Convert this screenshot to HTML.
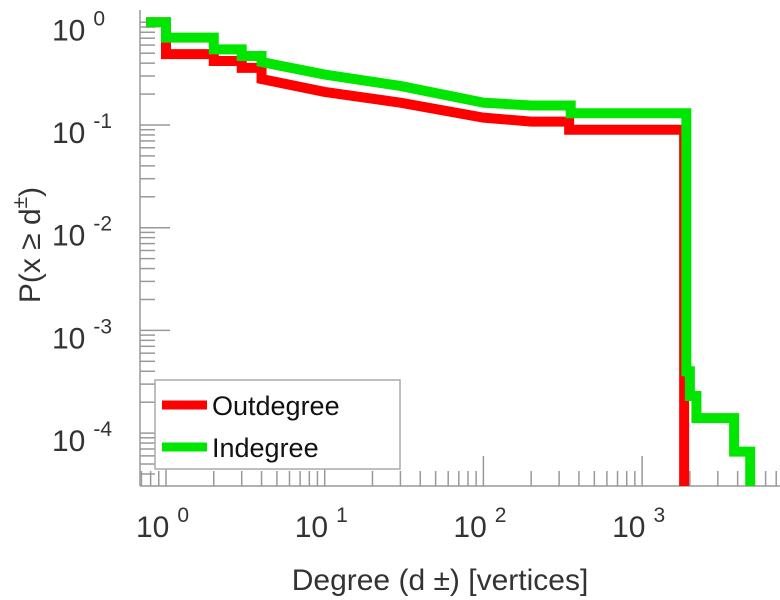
<!DOCTYPE html>
<html><head><meta charset="utf-8">
<style>
html,body{margin:0;padding:0;background:#fff;}
svg{display:block;font-family:"Liberation Sans",sans-serif;}
</style></head>
<body>
<svg id="chart" width="780" height="600" viewBox="0 0 780 600"></svg>
<script>
const outDeg = [0.75, 1, 2, 3, 4, 10, 30, 100, 200, 347, 1840];
const outP   = [1, 0.49, 0.42, 0.36, 0.28, 0.21, 0.165, 0.118, 0.108, 0.09, 0.09];
const outStep = [0, 1, 1, 1, 1, 0, 0, 0, 0, 1, 0];
const inDeg  = [0.75, 1, 2, 3, 4, 10, 30, 100, 200, 355, 1820, 1900, 2000, 2200, 3800, 4800];
const inP    = [1, 0.71, 0.545, 0.47, 0.41, 0.31, 0.24, 0.165, 0.155, 0.13, 0.13, 0.0004, 0.00023, 0.00014, 0.000066, 0.000066];
const inStep = [0, 1, 1, 1, 1, 0, 0, 0, 0, 1, 0, 1, 1, 1, 1, 0];
const xTickExp = [0, 1, 2, 3];
const yTickExp = [0, -1, -2, -3, -4];

const NS = "http://www.w3.org/2000/svg";
const svg = document.getElementById("chart");
const L = 140, R = 780, T = 0, B = 486;
const X0 = 166, XD = 158.7, Y0 = 22.3, YD = 102.7;
function xs(d){ return X0 + Math.log10(d) * XD; }
function ys(p){ return Y0 - Math.log10(p) * YD; }
function mk(tag, attrs, parent){
  const e = document.createElementNS(NS, tag);
  for (const k in attrs) e.setAttribute(k, attrs[k]);
  (parent || svg).appendChild(e);
  return e;
}
const defs = mk("defs", {});
const cp = mk("clipPath", {id:"clip"}, defs);
mk("rect", {x:L, y:T, width:R-L, height:B-T}, cp);

const axes = mk("g", {stroke:"#999", "stroke-width":1.5, fill:"none"});


mk("line", {x1:L, y1:T+10, x2:L, y2:B}, axes);
mk("line", {x1:L, y1:B, x2:R, y2:B}, axes);
for (let e = -1; e <= 3; e++) {
  for (let m = 1; m <= 9; m++) {
    const x = xs(m * Math.pow(10, e));
    if (x < L || x > R) continue;
    const len = m === 1 ? 30 : 15;
    mk("line", {x1:x, y1:B, x2:x, y2:B-len}, axes);
  }
}
for (let e = -5; e <= 0; e++) {
  for (let m = 1; m <= 9; m++) {
    const y = ys(m * Math.pow(10, e));
    if (y < T+10 || y > B) continue;
    const len = m === 1 ? 30 : 15;
    mk("line", {x1:L, y1:y, x2:L+len, y2:y}, axes);
  }
}
xTickExp.forEach(function(e){
  const t = mk("text", {x:xs(Math.pow(10,e)) - 30, y:537, "font-size":30, fill:"#333"});
  
  
  t.textContent = "10";
  const s = mk("tspan", {dx:8, dy:-15, "font-size":21}, t);
  s.textContent = String(e);
});
yTickExp.forEach(function(e){
  const t = mk("text", {x:52, y:ys(Math.pow(10,e)) + 18, "font-size":30, fill:"#333"});
  
  
  t.textContent = "10";
  const s = mk("tspan", {dx:8, dy:-15, "font-size":21}, t);
  s.textContent = String(e);
});
const xt = mk("text", {x:440, y:590, "font-size":30, fill:"#333", "text-anchor":"middle"});


xt.textContent = "Degree (d  \u00B1) [vertices]";
const yt = mk("text", {x:0, y:0, "font-size":30, fill:"#333", "text-anchor":"middle", transform:"translate(40,245) rotate(-90)"});


yt.textContent = "P(x \u2265 d";
const ysup = mk("tspan", {dy:-13, "font-size":21}, yt);
ysup.textContent = "\u00B1";
const yclose = mk("tspan", {dy:13}, yt);
yclose.textContent = ")";

function stepPath(ds, ps, st){
  let d = "";
  for (let i = 0; i < ds.length; i++) {
    const x = xs(ds[i]), y = ys(ps[i]);
    if (i === 0) d += "M" + x + "," + y;
    else if (st[i]) d += " L" + x + "," + ys(ps[i-1]) + " L" + x + "," + y;
    else d += " L" + x + "," + y;
  }
  d += " L" + xs(ds[ds.length-1]) + "," + (B + 20);
  return d;
}
const series = mk("g", {"clip-path":"url(#clip)"});
const red = mk("path", {d:stepPath(outDeg, outP, outStep), stroke:"#ff0000", "stroke-width":10, fill:"none"}, series);


const green = mk("path", {d:stepPath(inDeg, inP, inStep), stroke:"#00e600", "stroke-width":10, fill:"none"}, series);



const lg = mk("g", {});


mk("rect", {x:155, y:380, width:245, height:89, fill:"#fff", stroke:"#aaa", "stroke-width":1.5}, lg);
const e1 = mk("line", {x1:162, y1:405, x2:207, y2:405, stroke:"#ff0000", "stroke-width":9}, lg);


const t1 = mk("text", {x:212, y:415, "font-size":27, fill:"#111"}, lg);


t1.textContent = "Outdegree";
const e2 = mk("line", {x1:162, y1:447, x2:207, y2:447, stroke:"#00e600", "stroke-width":9}, lg);


const t2 = mk("text", {x:212, y:457, "font-size":27, fill:"#111"}, lg);


t2.textContent = "Indegree";
</script>
</body></html>
